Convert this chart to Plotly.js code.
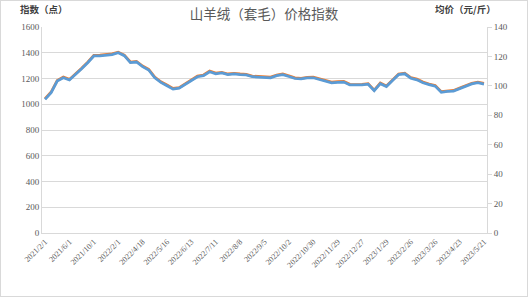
<!DOCTYPE html>
<html><head><meta charset="utf-8">
<script src="https://cdn.plot.ly/plotly-3.0.1.min.js"></script>
<style>
html,body{margin:0;padding:0;background:#fff;}
#wrap{width:526px;height:295px;border:1px solid #d9d9d9;}
#chart{width:526px;height:295px;}
</style></head><body>
<div id="wrap"><div id="chart"></div></div>
<script>
const tickLabels = ["2021/2/1","2021/6/1","2021/10/1","2022/2/1","2022/4/18","2022/5/16","2022/6/13","2022/7/11","2022/8/8","2022/9/5","2022/10/2","2022/10/30","2022/11/29","2022/12/27","2023/1/29","2023/2/26","2023/3/26","2023/4/23","2023/5/21"];
const indexValues = [1043,1095,1185,1211,1193,1235,1280,1327,1380,1381,1384,1391,1405,1382,1328,1333,1297,1271,1211,1175,1149,1123,1129,1160,1188,1219,1227,1258,1242,1248,1235,1240,1235,1232,1219,1217,1213,1211,1227,1235,1221,1205,1201,1209,1211,1199,1185,1172,1175,1178,1155,1152,1155,1160,1110,1165,1142,1190,1235,1242,1207,1195,1172,1157,1145,1098,1105,1107,1125,1145,1163,1172,1162];
const priceValues = [90.8,95.4,103.3,105.5,104.0,107.6,111.6,115.7,120.3,120.3,120.6,121.2,122.5,120.5,115.8,116.2,113.1,110.8,105.5,102.4,100.1,97.8,98.4,101.1,103.5,106.2,106.9,109.6,108.2,108.8,107.6,108.1,107.6,107.4,106.2,106.1,105.7,105.5,106.9,107.6,106.4,105.0,104.7,105.4,105.5,104.5,103.3,102.1,102.4,102.6,100.6,100.4,100.6,101.1,96.7,101.5,99.5,103.7,107.6,108.2,105.2,104.1,102.1,100.8,99.8,95.6,96.3,96.4,98.0,99.8,101.3,102.1,101.2];
const labelStep = 4;

const xs = indexValues.map((_, i) => i);
const tickVals = tickLabels.map((_, i) => i * labelStep);

const tickFont = {family: "Liberation Serif, serif", size: 9, color: "#595959"};
const traces = [
  {x: xs, y: indexValues, type: "scatter", mode: "lines", name: "指数", line: {color: "#ed7d31", width: 2.75}, yaxis: "y"},
  {x: xs, y: priceValues, type: "scatter", mode: "lines", name: "均价", line: {color: "#5b9bd5", width: 2.75}, yaxis: "y2"}
];
const layout = {
  width: 526, height: 295,
  margin: {l: 41, r: 40, t: 26, b: 63},
  paper_bgcolor: "#fff", plot_bgcolor: "#fff",
  showlegend: false,
  title: {text: "山羊绒（套毛）价格指数", x: 0.5, xanchor: "center", y: 0.955, yanchor: "middle",
          font: {family: "Noto Sans CJK SC, sans-serif", size: 13.5, color: "#595959"}},
  xaxis: {range: [-0.5, indexValues.length - 0.5], tickvals: tickVals, ticktext: tickLabels,
          tickangle: -45, tickfont: {family: "Liberation Serif, serif", size: 8, color: "#595959"},
          showgrid: false, zeroline: false, showline: true, linecolor: "#d9d9d9", linewidth: 1,
          ticks: "", fixedrange: true},
  yaxis: {range: [0, 1600], dtick: 200, tickfont: tickFont, gridcolor: "#d9d9d9", gridwidth: 1,
          zeroline: false, showline: true, linecolor: "#d9d9d9", ticks: "", ticklen: 4},
  yaxis2: {range: [0, 140], dtick: 20, overlaying: "y", side: "right", tickfont: tickFont,
           showgrid: false, zeroline: false, showline: true, linecolor: "#d9d9d9",
           ticks: "outside", ticklen: 4, tickcolor: "#d9d9d9"},
  annotations: [
    {text: "<b>指数（点）</b>", xref: "paper", yref: "paper", x: -0.055, y: 1.085, xanchor: "left", yanchor: "middle",
     showarrow: false, font: {family: "Noto Sans CJK SC, sans-serif", size: 9.5, color: "#404040"}},
    {text: "<b>均价（元/斤）</b>", xref: "paper", yref: "paper", x: 1.025, y: 1.085, xanchor: "right", yanchor: "middle",
     showarrow: false, font: {family: "Noto Sans CJK SC, sans-serif", size: 9.5, color: "#404040"}}
  ]
};
Plotly.newPlot("chart", traces, layout, {displayModeBar: false, staticPlot: true});
</script>
</body></html>
